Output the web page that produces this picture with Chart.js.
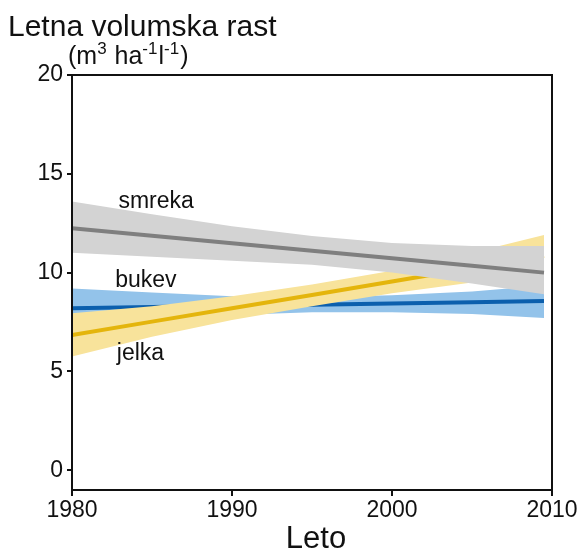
<!DOCTYPE html>
<html>
<head>
<meta charset="utf-8">
<script src="https://cdn.jsdelivr.net/npm/chart.js@4.4.1/dist/chart.umd.min.js"></script>
<style>
  html, body { margin: 0; padding: 0; background: #fff; }
  #wrap { width: 583px; height: 552px; position: relative; }
</style>
</head>
<body>
<div id="wrap"><canvas id="chart"></canvas></div>
<script>
const years = [1980, 1985, 1990, 1995, 2000, 2005, 2009.5];

// smreka (spruce)
const smrekaFit   = [12.25, 11.87, 11.49, 11.11, 10.73, 10.35, 10.0];
const smrekaUpper = [13.6, 12.95, 12.35, 11.85, 11.5, 11.35, 11.35];
const smrekaLower = [11.0, 10.8, 10.6, 10.4, 10.0, 9.45, 8.9];

// jelka (fir)
const jelkaFit   = [6.84, 7.52, 8.2, 8.87, 9.55, 10.23, 10.85];
const jelkaUpper = [7.95, 8.3, 8.8, 9.4, 10.1, 11.0, 11.9];
const jelkaLower = [5.75, 6.75, 7.6, 8.3, 8.95, 9.5, 9.85];

// bukev (beech)
const bukevFit   = [8.2, 8.26, 8.32, 8.38, 8.44, 8.5, 8.56];
const bukevUpper = [9.2, 9.0, 8.8, 8.75, 8.85, 9.05, 9.35];
const bukevLower = [7.35, 7.6, 7.85, 8.0, 8.0, 7.9, 7.7];

const xTicks = [1980, 1990, 2000, 2010];
const yTicks = [0, 5, 10, 15, 20];

// series names and where their labels sit (year, value)
const seriesNames = ['smreka', 'bukev', 'jelka'];
const labelYears  = [1982.9, 1982.7, 1982.8];
const labelValues = [13.27, 9.27, 5.6];

const pts = arr => arr.map((v, i) => ({x: years[i], y: v}));

const TXT = '#111';
const FONT = '"Liberation Sans", Arial, sans-serif';

function lineDs(data, color, order) {
  return {data: pts(data), borderColor: color, borderWidth: 4, pointRadius: 0,
          fill: false, order: order, borderCapStyle: 'butt'};
}
function bandDs(data, color, target, order) {
  return {data: pts(data), borderWidth: 0, borderColor: 'rgba(0,0,0,0)', pointRadius: 0,
          backgroundColor: color, fill: target === null ? false : {target: target}, order: order};
}

// frame + texts
const decor = {
  id: 'decor',
  afterDraw(chart) {
    const {ctx, chartArea: a, scales} = chart;
    ctx.save();
    ctx.strokeStyle = '#111';
    ctx.lineWidth = 2;
    ctx.strokeRect(a.left, a.top, a.right - a.left, a.bottom - a.top);

    ctx.fillStyle = TXT;
    ctx.textBaseline = 'alphabetic';
    ctx.textAlign = 'left';
    ctx.font = '30px ' + FONT;
    ctx.fillText('Letna volumska rast', 8, 36);

    // unit line with superscripts
    let x = 68;
    const base = 64;
    const parts = [['(m', false], ['3', true], [' ha', false], ['-1', true], ['l', false], ['-1', true], [')', false]];
    parts.forEach(([t, sup]) => {
      ctx.font = (sup ? '17px ' : '25px ') + FONT;
      ctx.fillText(t, x, sup ? base - 10 : base);
      x += ctx.measureText(t).width + (sup ? 1 : 0);
    });

    ctx.font = '31px ' + FONT;
    ctx.textAlign = 'center';
    ctx.fillText('Leto', (a.left + a.right) / 2 + 4, 548);

    ctx.font = '23px ' + FONT;
    ctx.textAlign = 'left';
    seriesNames.forEach((n, i) => {
      ctx.fillText(n, scales.x.getPixelForValue(labelYears[i]), scales.y.getPixelForValue(labelValues[i]));
    });
    ctx.restore();
  }
};

new Chart(document.getElementById('chart'), {
  type: 'line',
  data: {
    datasets: [
      lineDs(smrekaFit, '#7f7f7f', 1),
      bandDs(smrekaUpper, '#d3d3d3', 2, 2),
      bandDs(smrekaLower, '#d3d3d3', null, 2),
      lineDs(jelkaFit, '#e4b50c', 3),
      bandDs(jelkaUpper, '#f8e39b', 5, 4),
      bandDs(jelkaLower, '#f8e39b', null, 4),
      lineDs(bukevFit, '#0b5fad', 5),
      bandDs(bukevUpper, '#93c3ea', 8, 6),
      bandDs(bukevLower, '#93c3ea', null, 6)
    ]
  },
  options: {
    responsive: true,
    maintainAspectRatio: false,
    animation: false,
    layout: {padding: {top: 75, right: 31, left: 0, bottom: 0}},
    plugins: {legend: {display: false}, tooltip: {enabled: false}, title: {display: false}},
    scales: {
      x: {
        type: 'linear', min: 1980, max: 2010,
        afterBuildTicks: s => { s.ticks = xTicks.map(v => ({value: v})); },
        afterFit: s => { s.height = 62; },
        ticks: {color: TXT, font: {family: FONT, size: 23}, padding: 1, maxRotation: 0,
                callback: v => String(v)},
        grid: {drawOnChartArea: false, drawTicks: true, tickLength: 6, color: '#111', lineWidth: 2},
        border: {display: true, color: '#111', width: 2}
      },
      y: {
        type: 'linear', min: -1, max: 20,
        afterBuildTicks: s => { s.ticks = yTicks.map(v => ({value: v})); },
        afterFit: s => { s.width = 72; },
        ticks: {color: TXT, font: {family: FONT, size: 23}, padding: 4},
        grid: {drawOnChartArea: false, drawTicks: true, tickLength: 5, color: '#111', lineWidth: 2},
        border: {display: true, color: '#111', width: 2}
      }
    }
  },
  plugins: [decor]
});
</script>
</body>
</html>
